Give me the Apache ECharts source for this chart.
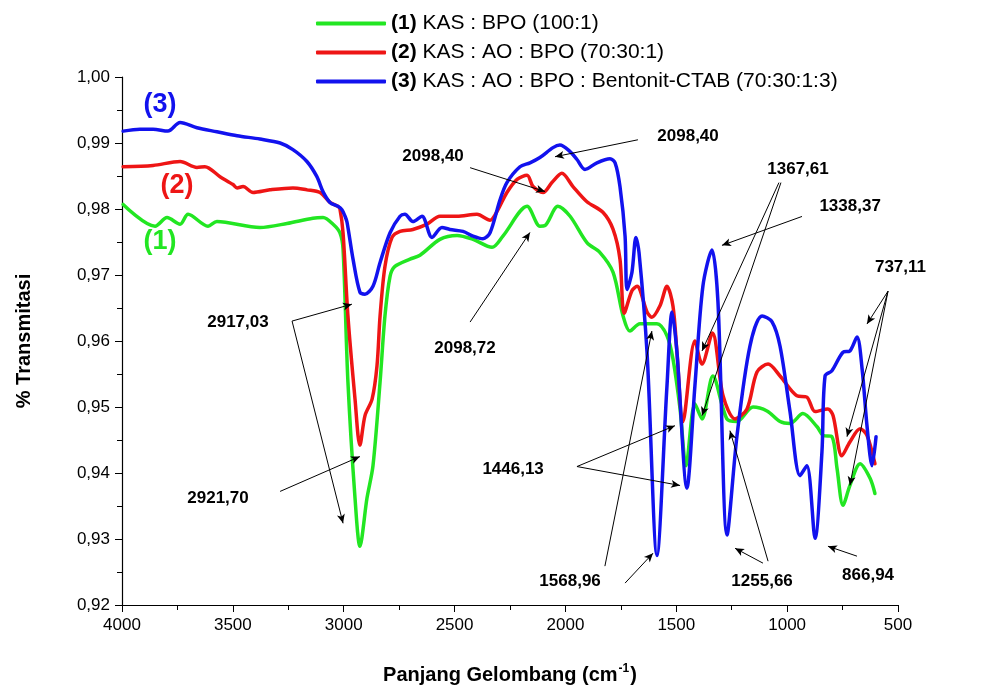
<!DOCTYPE html>
<html><head><meta charset="utf-8">
<script src="https://cdn.jsdelivr.net/npm/echarts@6/dist/echarts.min.js"></script>
<style>html,body{margin:0;padding:0;background:#fff}#c{width:1001px;height:690px}</style>
</head><body><div id="c"></div>
<script>
// Series names
const seriesNames = ['KAS : BPO (100:1)', 'KAS : AO : BPO (70:30:1)', 'KAS : AO : BPO : Bentonit-CTAB (70:30:1:3)'];
const seriesTags = ['(1)', '(2)', '(3)'];

// [wavenumber (cm-1), transmittance]
const greenData = [[3995,0.9807],[3851,0.9774],[3797,0.9787],[3738,0.9777],[3702,0.9792],[3612,0.9774],[3572,0.9781],[3378,0.9772],[3256,0.9778],[3139,0.9786],[3093,0.9787],[3048,0.9777],[3017,0.9764],[3003,0.9739],[2981,0.9538],[2949,0.9362],[2927,0.9289],[2895,0.9362],[2868,0.9411],[2836,0.9538],[2814,0.9638],[2791,0.9698],[2769,0.9713],[2701,0.9724],[2656,0.9730],[2566,0.9754],[2489,0.9760],[2417,0.9754],[2331,0.9742],[2282,0.9759],[2173,0.9804],[2115,0.9774],[2092,0.9775],[2034,0.9804],[1979,0.9789],[1903,0.9749],[1844,0.9734],[1785,0.9704],[1740,0.9638],[1709,0.9615],[1664,0.9626],[1587,0.9626],[1542,0.9608],[1515,0.9573],[1483,0.9497],[1456,0.9411],[1416,0.9505],[1384,0.9482],[1335,0.9547],[1272,0.9482],[1226,0.9478],[1154,0.9500],[1091,0.9494],[1032,0.9478],[987,0.9475],[929,0.9490],[865,0.9470],[838,0.9457],[798,0.9455],[775,0.9407],[748,0.9351],[717,0.9381],[671,0.9414],[626,0.9392],[604,0.9369]];

const redData = [[3995,0.9864],[3860,0.9866],[3738,0.9872],[3662,0.9863],[3626,0.9864],[3558,0.9849],[3499,0.9837],[3481,0.9832],[3454,0.9834],[3409,0.9825],[3333,0.9829],[3229,0.9832],[3166,0.9829],[3107,0.9825],[3062,0.9810],[3026,0.9804],[3017,0.9800],[3003,0.9764],[2981,0.9638],[2949,0.9512],[2927,0.9442],[2904,0.9487],[2872,0.9512],[2850,0.9562],[2836,0.9638],[2814,0.9713],[2782,0.9757],[2746,0.9766],[2688,0.9769],[2624,0.9777],[2566,0.9789],[2489,0.9789],[2399,0.9792],[2340,0.9783],[2309,0.9796],[2264,0.9825],[2218,0.9845],[2173,0.9851],[2146,0.9834],[2101,0.9825],[2061,0.9840],[2016,0.9854],[1966,0.9834],[1903,0.9811],[1831,0.9795],[1785,0.9769],[1754,0.9724],[1735,0.9642],[1700,0.9676],[1677,0.9683],[1632,0.9644],[1610,0.9636],[1574,0.9653],[1542,0.9683],[1515,0.9653],[1497,0.9583],[1470,0.9478],[1416,0.9600],[1384,0.9565],[1337,0.9612],[1289,0.9517],[1235,0.9482],[1181,0.9497],[1136,0.9553],[1086,0.9565],[1032,0.9547],[956,0.9517],[911,0.9515],[874,0.9493],[816,0.9497],[793,0.9487],[753,0.9426],[717,0.9447],[671,0.9467],[640,0.9457],[604,0.9414]];

const blueData = [[3995,0.9918],[3919,0.9921],[3860,0.9921],[3793,0.9918],[3738,0.9931],[3662,0.9923],[3572,0.9917],[3481,0.9911],[3378,0.9906],[3287,0.9900],[3229,0.9890],[3166,0.9872],[3121,0.9849],[3093,0.9826],[3062,0.9810],[3026,0.9804],[3008,0.9799],[2994,0.9789],[2985,0.9780],[2958,0.9724],[2927,0.9674],[2904,0.9671],[2868,0.9683],[2836,0.9719],[2791,0.9764],[2746,0.9789],[2724,0.9792],[2688,0.9781],[2647,0.9789],[2602,0.9757],[2557,0.9772],[2521,0.9769],[2462,0.9766],[2417,0.9759],[2372,0.9755],[2340,0.9764],[2295,0.9814],[2264,0.9840],[2205,0.9864],[2160,0.9870],[2115,0.9878],[2056,0.9893],[2025,0.9897],[1979,0.9887],[1948,0.9875],[1912,0.9860],[1858,0.9870],[1799,0.9876],[1776,0.9870],[1754,0.9834],[1731,0.9759],[1722,0.9678],[1700,0.9704],[1682,0.9757],[1668,0.9734],[1632,0.9583],[1587,0.9275],[1542,0.9532],[1519,0.9644],[1497,0.9583],[1452,0.9377],[1416,0.9532],[1380,0.9683],[1339,0.9738],[1312,0.9659],[1271,0.9306],[1226,0.9457],[1168,0.9592],[1113,0.9638],[1068,0.9629],[1032,0.9592],[987,0.9493],[942,0.9396],[911,0.9411],[874,0.9301],[843,0.9432],[829,0.9547],[798,0.9555],[748,0.9583],[717,0.9585],[685,0.9606],[662,0.9558],[640,0.9472],[617,0.9411],[599,0.9455]];

// Axis ranges / ticks
const xMin = 500, xMax = 4000, xStep = 500;
const yMin = 0.92, yMax = 1.00, yStep = 0.01;

// Peak annotations (text, wavenumber, value, align)
const peakTexts = [
  ['2917,03', 3477, 0.96287, 'center'],
  ['2921,70', 3567, 0.93615, 'center'],
  ['2098,40', 2597, 0.98792, 'center'],
  ['2098,40', 1447, 0.99094, 'center'],
  ['2098,72', 2453, 0.95894, 'center'],
  ['1367,61', 951, 0.98596, 'center'],
  ['1338,37', 716, 0.98038, 'center'],
  ['737,11', 604, 0.97117, 'left'],
  ['1446,13', 2236, 0.94053, 'center'],
  ['1568,96', 1979, 0.92362, 'center'],
  ['1255,66', 1113, 0.92362, 'center'],
  ['866,94', 635, 0.92453, 'center']
];
// Arrows: [from, to] in data coordinates
const peakArrows = [
  [[3233,0.96302],[2963,0.96558]],
  [[3233,0.96302],[3003,0.93238]],
  [[3287,0.93721],[2927,0.94249]],
  [[2430,0.98626],[2092,0.98264]],
  [[1673,0.99049],[2047,0.98792]],
  [[2430,0.96287],[2160,0.97645]],
  [[1037,0.98400],[1384,0.95849]],
  [[1028,0.98400],[1384,0.94868]],
  [[933,0.97887],[1294,0.97449]],
  [[545,0.96755],[640,0.96257]],
  [[545,0.96755],[730,0.94551]],
  [[545,0.96755],[717,0.93811]],
  [[1948,0.94098],[1506,0.94717]],
  [[1948,0.94098],[1483,0.93811]],
  [[1731,0.92332],[1605,0.92785]],
  [[1822,0.92589],[1610,0.96151]],
  [[1086,0.92664],[1258,0.94642]],
  [[1109,0.92634],[1235,0.92860]],
  [[685,0.92740],[816,0.92890]]
];
// Series tag positions
const tagPos = [[3829,0.97509],[3752,0.98355],[3829,0.99577]];

const colors = ['#22e622', '#ee1515', '#1212ee'];
const FONT = '"Liberation Sans", Arial, sans-serif';

const chart = echarts.init(document.getElementById('c'));
const datas = [greenData, redData, blueData];

const series = datas.map((d, i) => ({
  name: seriesNames[i],
  type: 'line',
  data: d,
  smooth: 0.3,
  showSymbol: false,
  symbol: 'none',
  lineStyle: { width: 3.5, color: colors[i], cap: 'round', join: 'round' },
  itemStyle: { color: colors[i] },
  z: 2 + i,
  markPoint: {
    symbol: 'circle', symbolSize: 0, silent: true, animation: false,
    data: [{ coord: tagPos[i], value: seriesTags[i] }],
    label: { show: true, position: 'inside', formatter: seriesTags[i], color: colors[i],
      fontSize: 27, fontWeight: 'bold', fontFamily: FONT }
  }
}));

series.push({
  name: 'annotations',
  type: 'line',
  data: [],
  z: 10,
  silent: true,
  markLine: {
    silent: true, animation: false,
    symbol: ['none', 'arrow'], symbolSize: [6, 9],
    label: { show: false },
    lineStyle: { color: '#000', width: 1, type: 'solid' },
    emphasis: { disabled: true },
    data: peakArrows.map(a => [{ coord: a[0] }, { coord: a[1] }])
  },
  markPoint: {
    symbol: 'circle', symbolSize: 0, silent: true, animation: false,
    data: peakTexts.map(t => ({
      coord: [t[1], t[2]], value: t[0],
      label: { position: t[3] === 'left' ? 'right' : 'inside', distance: 0 }
    })),
    label: { show: true, formatter: p => p.value, color: '#000', fontSize: 17,
      fontWeight: 'bold', fontFamily: FONT }
  }
});

const tagMap = {};
seriesNames.forEach((n, i) => tagMap[n] = '{b|' + seriesTags[i] + '} ' + n);

chart.setOption({
  animation: false,
  backgroundColor: '#fff',
  textStyle: { fontFamily: FONT },
  legend: {
    data: seriesNames,
    orient: 'vertical',
    left: 316, top: 9, padding: 0,
    itemWidth: 70, itemHeight: 4, itemGap: 0,
    icon: 'roundRect',
    formatter: n => tagMap[n],
    textStyle: { fontSize: 21, color: '#000', fontFamily: FONT, lineHeight: 29,
      rich: { b: { fontWeight: 'bold', fontSize: 21, fontFamily: FONT, lineHeight: 29 } } }
  },
  grid: { left: 122, right: 103, top: 77, bottom: 83 },
  xAxis: {
    type: 'value', min: xMin, max: xMax, interval: xStep, inverse: true,
    name: '{a|Panjang Gelombang (cm}{s|-1}{a|)}',
    nameLocation: 'middle', nameGap: 58,
    nameTextStyle: { rich: {
      a: { fontSize: 20, fontWeight: 'bold', color: '#000', fontFamily: FONT },
      s: { fontSize: 12, fontWeight: 'bold', color: '#000', fontFamily: FONT, verticalAlign: 'top', padding: [0, 1, 12, 1] }
    } },
    axisLine: { show: true, lineStyle: { color: '#000', width: 1.2 } },
    axisTick: { show: true, length: 7, lineStyle: { color: '#000' } },
    minorTick: { show: true, splitNumber: 2, length: 5, lineStyle: { color: '#000' } },
    splitLine: { show: false },
    axisLabel: { fontSize: 17, color: '#000', margin: 12, fontFamily: FONT,
      formatter: v => String(v) }
  },
  yAxis: {
    type: 'value', min: yMin, max: yMax, interval: yStep,
    name: '% Transmitasi', nameLocation: 'middle', nameGap: 88, nameRotate: 90,
    nameTextStyle: { fontSize: 20, fontWeight: 'bold', color: '#000', fontFamily: FONT },
    axisLine: { show: true, lineStyle: { color: '#000', width: 1.2 } },
    axisTick: { show: true, length: 7, lineStyle: { color: '#000' } },
    minorTick: { show: true, splitNumber: 2, length: 5, lineStyle: { color: '#000' } },
    splitLine: { show: false },
    axisLabel: { fontSize: 17, color: '#000', margin: 12, fontFamily: FONT,
      formatter: v => v.toFixed(2).replace('.', ',') }
  },
  series: series
});
</script>
</body></html>
